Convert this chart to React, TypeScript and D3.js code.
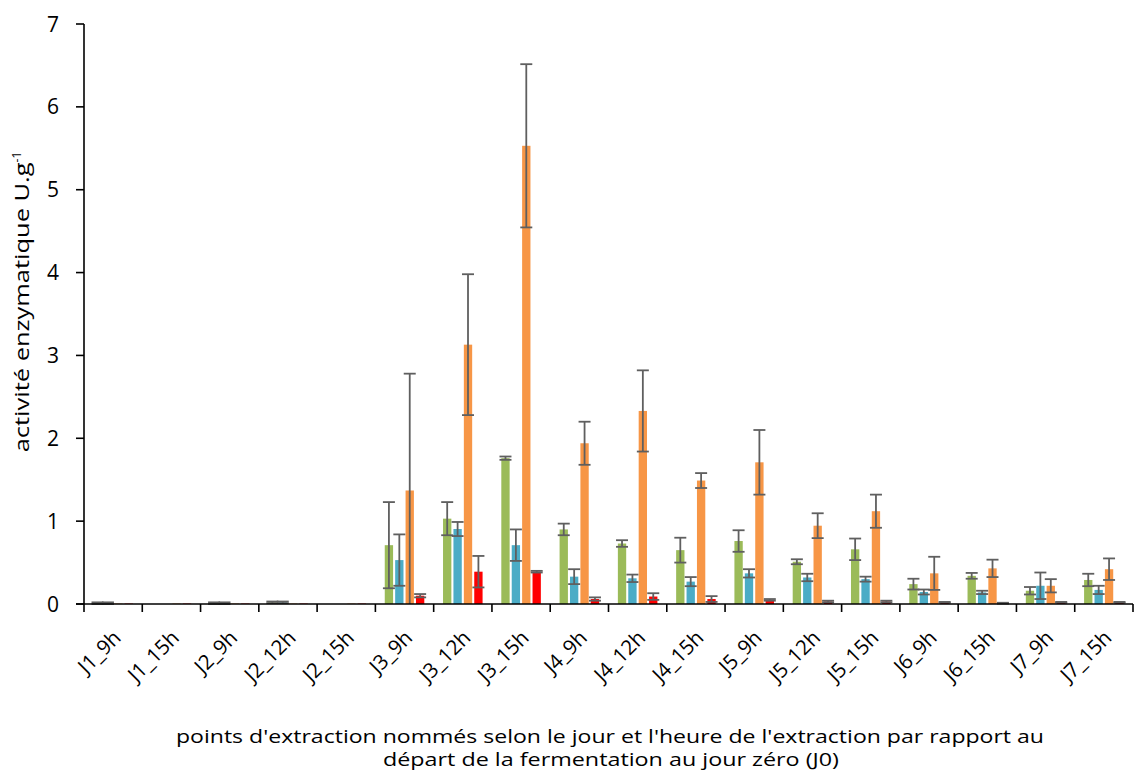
import React from "react";
import * as d3 from "d3";

const categories = ["J1_9h","J1_15h","J2_9h","J2_12h","J2_15h","J3_9h","J3_12h","J3_15h","J4_9h","J4_12h","J4_15h","J5_9h","J5_12h","J5_15h","J6_9h","J6_15h","J7_9h","J7_15h"];

const green = [0.01,0,0.01,0.02,0,0.71,1.03,1.76,0.9,0.73,0.65,0.76,0.51,0.66,0.24,0.34,0.16,0.29];
const greenErr = [0.01,0,0.01,0.01,0,0.52,0.2,0.02,0.07,0.04,0.15,0.13,0.03,0.13,0.065,0.035,0.045,0.075];
const blue = [0.01,0,0.01,0.02,0,0.53,0.905,0.71,0.33,0.31,0.27,0.37,0.32,0.3,0.145,0.14,0.22,0.17];
const blueErr = [0.01,0,0.01,0.01,0,0.31,0.085,0.19,0.09,0.045,0.055,0.05,0.045,0.03,0.03,0.02,0.16,0.05];
const orange = [0.005,0.005,0.005,0.005,0.005,1.37,3.13,5.53,1.94,2.33,1.49,1.71,0.945,1.12,0.37,0.43,0.22,0.42];
const orangeErr = [0,0,0,0,0,1.41,0.85,0.985,0.26,0.49,0.09,0.39,0.15,0.2,0.2,0.105,0.08,0.13];
const red = [0.005,0.005,0.005,0.005,0.005,0.1,0.39,0.39,0.06,0.09,0.06,0.05,0.03,0.03,0.02,0.01,0.02,0.02];
const redErr = [0,0,0,0,0,0.02,0.19,0.01,0.02,0.04,0.035,0.01,0.01,0.01,0.005,0.005,0.005,0.005];

const yTicks = [0,1,2,3,4,5,6,7];

const xTitleLine1 = "points d'extraction nommés selon le jour et l'heure de l'extraction par rapport au";
const xTitleLine2 = "départ de la fermentation au jour zéro (J0)";
const yTitle = "activité enzymatique U.g";

const seriesList = [
  { values: green, errors: greenErr, color: "#9BBB59" },
  { values: blue, errors: blueErr, color: "#4BACC6" },
  { values: orange, errors: orangeErr, color: "#F79646" },
  { values: red, errors: redErr, color: "#FF0000" },
];

const W = 1135, H = 771;
const X0 = 84, X1 = 1133, Y0 = 604, Y1 = 24;
const FONT = "'Open Sans', 'Noto Sans', sans-serif";

export default function App() {
  const x = d3.scaleBand<string>().domain(categories).range([X0, X1]).paddingInner(0).paddingOuter(0);
  const y = d3.scaleLinear().domain([0, 7]).range([Y0, Y1]);
  const bw = x.bandwidth() / 7;
  const gap = bw * 0.25;
  const groupW = 4 * bw + 3 * gap;

  const bars: React.ReactNode[] = [];
  const errs: React.ReactNode[] = [];
  categories.forEach((c, ci) => {
    const start = (x(c) as number) + (x.bandwidth() - groupW) / 2;
    seriesList.forEach((s, si) => {
      const v = s.values[ci];
      const e = s.errors[ci];
      const bx = start + si * (bw + gap);
      const cx = bx + bw / 2;
      if (v > 0) {
        bars.push(
          <rect key={`b${ci}-${si}`} x={bx} y={y(v)} width={bw} height={Y0 - y(v)} fill={s.color} />
        );
      }
      if (e > 0) {
        const hi = v + e;
        const loRaw = v - e;
        const lo = Math.max(0, loRaw);
        const capW = 12;
        errs.push(
          <g key={`e${ci}-${si}`} stroke="#5f5f5f" strokeWidth={1.8}>
            <line x1={cx} x2={cx} y1={y(hi)} y2={y(lo)} />
            <line x1={cx - capW / 2} x2={cx + capW / 2} y1={y(hi)} y2={y(hi)} />
            {loRaw >= 0 && <line x1={cx - capW / 2} x2={cx + capW / 2} y1={y(lo)} y2={y(lo)} />}
          </g>
        );
      }
    });
  });

  return (
    <div style={{ position: "absolute", left: 0, top: 0 }}>
      <svg width={W} height={H} style={{ display: "block", background: "#fff" }}>
        <rect width={W} height={H} fill="#fff" />
        {bars}
        {errs}
        {/* y axis */}
        <line x1={X0} x2={X0} y1={Y1} y2={Y0} stroke="#000" strokeWidth={1.6} />
        {yTicks.map((t) => (
          <g key={`yt${t}`}>
            <line x1={X0 - 8} x2={X0} y1={y(t)} y2={y(t)} stroke="#000" strokeWidth={1.6} />
            <text x={X0 - 25} y={y(t)} dy="0.36em" textAnchor="end" fontFamily={FONT} fontSize={21} fill="#000">{t}</text>
          </g>
        ))}
        {/* x axis */}
        <line x1={X0 - 8} x2={X1} y1={Y0} y2={Y0} stroke="#000" strokeWidth={1.6} />
        {categories.map((c, i) => (
          <line key={`xt${i}`} x1={X0 + i * x.bandwidth()} x2={X0 + i * x.bandwidth()} y1={Y0} y2={Y0 + 8} stroke="#000" strokeWidth={1.6} />
        ))}
        <line x1={X1} x2={X1} y1={Y0} y2={Y0 + 8} stroke="#000" strokeWidth={1.6} />
        {categories.map((c, i) => {
          const cx = (x(c) as number) + x.bandwidth() / 2 + 4;
          const cy = Y0 + 30;
          return (
            <text key={`xl${i}`} x={cx} y={cy} dy="0.35em" textAnchor="end" transform={`rotate(-45 ${cx} ${cy})`} fontFamily={FONT} fontSize={20.5} fill="#000">{c}</text>
          );
        })}
        <text x={610} y={743} textAnchor="middle" fontFamily={FONT} fontSize={18.5} fill="#000" textLength={868} lengthAdjust="spacingAndGlyphs">{xTitleLine1}</text>
        <text x={611} y={766} textAnchor="middle" fontFamily={FONT} fontSize={18.5} fill="#000" textLength={456} lengthAdjust="spacingAndGlyphs">{xTitleLine2}</text>
        <text transform="rotate(-90 29 302)" x={29} y={302} textAnchor="middle" fontFamily={FONT} fontSize={19.5} fill="#000">
          <tspan textLength={290} lengthAdjust="spacingAndGlyphs">{yTitle}</tspan><tspan dy={-8} fontSize={12}>-1</tspan>
        </text>
      </svg>
    </div>
  );
}
